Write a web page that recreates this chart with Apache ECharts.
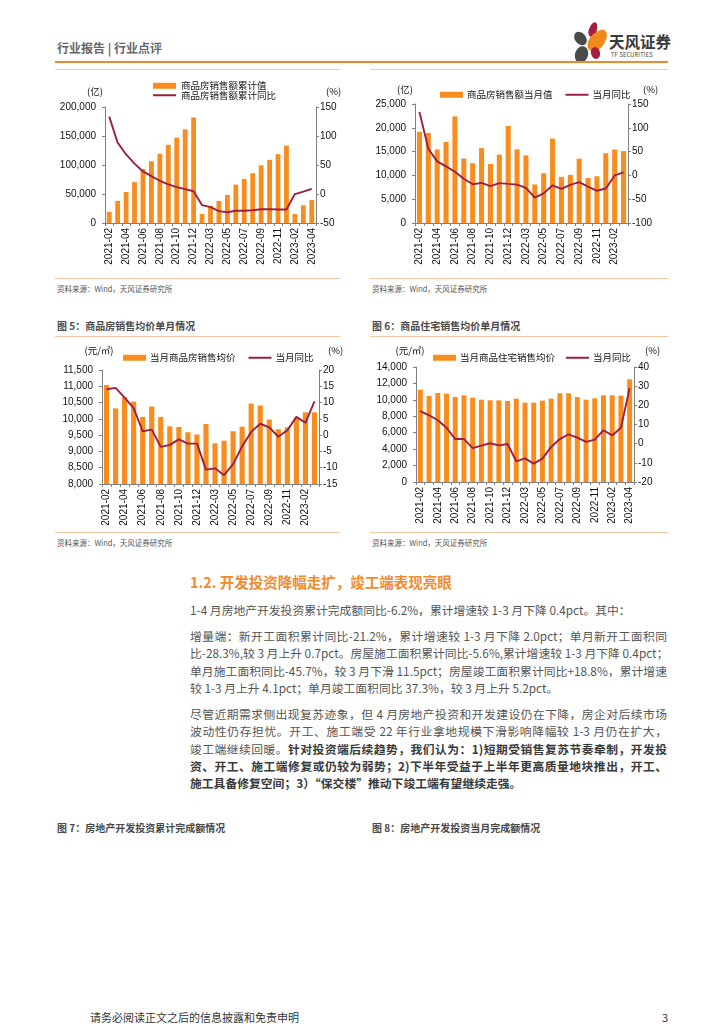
<!DOCTYPE html>
<html><head><meta charset="utf-8">
<script src="https://cdn.jsdelivr.net/npm/echarts/dist/echarts.min.js"></script>
<style>
html,body{margin:0;padding:0;background:#fff;}
body{width:724px;height:1024px;position:relative;overflow:hidden;font-family:"Noto Sans CJK SC","Noto Sans",sans-serif;}
.abs{position:absolute;}
.hl{position:absolute;height:1px;background:#F7C7A2;}
.src{position:absolute;font-size:7.5px;color:#555;line-height:10px;white-space:nowrap;}
.cap{position:absolute;font-size:10px;font-weight:bold;color:#4a4a4a;line-height:12px;white-space:nowrap;}
.para{position:absolute;left:190px;width:477px;font-size:11.8px;color:#555;}
.para div{height:17.3px;line-height:17.3px;text-align:justify;text-align-last:justify;white-space:nowrap;overflow:visible;}
.para div.last{text-align-last:left;}
.para b{color:#3a3a3a;}
.petal{position:absolute;}
</style></head><body>

<!-- header -->
<div class="abs" style="left:57px;top:40px;font-size:12px;font-weight:bold;color:#666;line-height:16px;white-space:nowrap;">行业报告 | 行业点评</div>
<div class="petal" style="left:589px;top:22px;width:8px;height:15px;background:#A51E3C;border-radius:50% 50% 50% 50%/60% 60% 40% 40%;transform:rotate(18deg);"></div>
<div class="petal" style="left:590px;top:28px;width:15px;height:25px;background:#F08A1D;border-radius:50% 50% 50% 50%/60% 60% 40% 40%;transform:rotate(38deg);"></div>
<div class="petal" style="left:575px;top:31px;width:11px;height:15px;background:#4a4a4a;border-radius:50%;transform:rotate(-40deg);"></div>
<div class="petal" style="left:575px;top:46px;width:13px;height:17px;background:#4a4a4a;border-radius:50%;transform:rotate(20deg);"></div>
<div class="petal" style="left:591px;top:47px;width:9px;height:12px;background:#A51E3C;border-radius:50%;transform:rotate(-15deg);"></div>
<div class="abs" style="left:609px;top:32px;font-size:15.5px;font-weight:bold;color:#3a3a3a;line-height:18px;white-space:nowrap;">天风证券</div>
<div class="abs" style="left:611px;top:52px;font-size:5.5px;color:#3a3a3a;line-height:7px;letter-spacing:0.3px;white-space:nowrap;">TF SECURITIES</div>
<div class="abs" style="left:55px;top:61px;width:613px;height:2px;background:#EE8A2E;"></div>

<!-- top panels -->
<div class="hl" style="left:55px;top:69px;width:285px;"></div>
<div class="hl" style="left:370px;top:69px;width:298px;"></div>
<div id="c1" class="abs" style="left:55px;top:70px;width:300px;height:206px;"></div>
<div id="c2" class="abs" style="left:370px;top:70px;width:298px;height:206px;"></div>
<div class="hl" style="left:55px;top:278px;width:285px;"></div>
<div class="hl" style="left:370px;top:278px;width:298px;"></div>
<div class="src" style="left:57px;top:284px;">资料来源：Wind，天风证券研究所</div>
<div class="src" style="left:372px;top:284px;">资料来源：Wind，天风证券研究所</div>

<div class="cap" style="left:57px;top:320px;">图 5：商品房销售均价单月情况</div>
<div class="cap" style="left:372px;top:320px;">图 6：商品住宅销售均价单月情况</div>
<div class="hl" style="left:55px;top:336px;width:285px;"></div>
<div class="hl" style="left:370px;top:336px;width:298px;"></div>
<div id="c3" class="abs" style="left:55px;top:338px;width:300px;height:194px;"></div>
<div id="c4" class="abs" style="left:370px;top:338px;width:298px;height:194px;"></div>
<div class="hl" style="left:55px;top:532px;width:285px;"></div>
<div class="hl" style="left:370px;top:532px;width:298px;"></div>
<div class="src" style="left:57px;top:538px;">资料来源：Wind，天风证券研究所</div>
<div class="src" style="left:372px;top:538px;">资料来源：Wind，天风证券研究所</div>

<!-- text -->
<div class="abs" style="left:190px;top:572px;font-size:14.5px;font-weight:bold;color:#F08A2D;line-height:20px;white-space:nowrap;">1.2. 开发投资降幅走扩，竣工端表现亮眼</div>
<div class="para" style="top:601px;">
<div class="last">1-4 月房地产开发投资累计完成额同比-6.2%，累计增速较 1-3 月下降 0.4pct。其中：</div>
</div>
<div class="para" style="top:627px;">
<div>增量端：新开工面积累计同比-21.2%，累计增速较 1-3 月下降 2.0pct；单月新开工面积同</div>
<div>比-28.3%,较 3 月上升 0.7pct。房屋施工面积累计同比-5.6%,累计增速较 1-3 月下降 0.4pct；</div>
<div>单月施工面积同比-45.7%，较 3 月下滑 11.5pct；房屋竣工面积累计同比+18.8%，累计增速</div>
<div class="last">较 1-3 月上升 4.1pct；单月竣工面积同比 37.3%，较 3 月上升 5.2pct。</div>
</div>
<div class="para" style="top:705px;">
<div>尽管近期需求侧出现复苏迹象，但 4 月房地产投资和开发建设仍在下降，房企对后续市场</div>
<div>波动性仍存担忧。开工、施工端受 22 年行业拿地规模下滑影响降幅较 1-3 月仍在扩大，</div>
<div>竣工端继续回暖。<b>针对投资端后续趋势，我们认为：1)短期受销售复苏节奏牵制，开发投</b></div>
<div><b>资、开工、施工端修复或仍较为弱势；2)下半年受益于上半年更高质量地块推出，开工、</b></div>
<div class="last"><b>施工具备修复空间；3）“保交楼”推动下竣工端有望继续走强。</b></div>
</div>

<div class="cap" style="left:57px;top:822px;">图 7：房地产开发投资累计完成额情况</div>
<div class="cap" style="left:372px;top:822px;">图 8：房地产开发投资当月完成额情况</div>

<div class="abs" style="left:90px;top:1010px;font-size:11px;color:#333;line-height:14px;white-space:nowrap;">请务必阅读正文之后的信息披露和免责申明</div>
<div class="abs" style="left:662px;top:1010px;font-size:11px;color:#333;line-height:14px;">3</div>

<script>
// ---------- data ----------
const months25 = ['2021-02','2021-03','2021-04','2021-05','2021-06','2021-07','2021-08','2021-09','2021-10','2021-11','2021-12',
  '2022-02','2022-03','2022-04','2022-05','2022-06','2022-07','2022-08','2022-09','2022-10','2022-11','2022-12',
  '2023-02','2023-03','2023-04'];
const months24 = ['2021-02','2021-03','2021-04','2021-05','2021-06','2021-07','2021-08','2021-09','2021-10','2021-11','2021-12',
  '2022-02','2022-03','2022-04','2022-05','2022-06','2022-07','2022-08','2022-09','2022-10','2022-11','2022-12',
  '2023-02','2023-03'];

// 商品房销售额累计值 (亿) / 累计同比 (%)
const salesCumValue = [19151,38049,53498,70534,92931,106482,119047,134795,147185,161542,181930,
  15459,29655,37933,48337,66072,75763,85870,99380,108832,118648,133308,15449,30545,39750];
const salesCumYoY = [133.4,88.5,68.2,52.4,38.9,30.7,22.8,16.6,11.8,8.5,4.8,
  -19.3,-22.7,-29.5,-31.5,-28.9,-28.8,-27.9,-26.3,-26.1,-26.6,-26.7,-0.1,4.1,8.8];

// 商品房销售额当月值 (亿) / 当月同比 (%)
const salesMonthValue = [19151,18898,15449,17036,22397,13551,12565,15748,12390,14357,20388,
  15459,14196,8100,10450,17735,9691,10107,13510,9452,9816,14660,15449,15096];
const salesMonthYoY = [133.4,56.1,29.5,18.9,7.6,-7.0,-18.7,-15.8,-22.6,-16.3,-17.9,
  -19.3,-26.2,-46.6,-37.7,-20.8,-28.5,-19.9,-14.2,-23.7,-32.3,-27.6,-0.1,6.3];

// 图5: 当月商品房销售均价 (元/㎡) / 当月同比 (%)
const priceMonth = [11040,10320,10660,10530,10060,10380,10060,9770,9750,9590,9520,
  9840,9250,9330,9620,9760,10470,10410,9980,9680,9740,10030,10200,10200];
const priceMonthYoY = [14.1,14.5,11.5,8.3,1.2,1.7,-3.6,-3.0,-1.3,-2.6,-2.6,
  -10.6,-10.2,-12.3,-8.9,-3.4,1.0,3.5,2.4,-0.5,1.5,5.6,3.8,10.4];

// 图6: 当月商品住宅销售均价 (元/㎡) / 当月同比 (%)
const resPriceMonth = [11240,10470,10840,10750,10350,10550,10270,10020,9940,9940,9860,
  10150,9660,9660,9900,10150,10800,10800,10350,10020,10190,10550,10550,10510,12500];
const resPriceMonthYoY = [17.0,14.8,12.2,8.3,2.4,2.4,-2.3,-1.0,0.2,-0.9,-0.2,
  -9.2,-7.7,-10.4,-7.8,-1.7,2.4,4.9,3.1,0.9,2.1,7.0,4.3,8.3,29.0];

// axis ranges
const c1Left = {min:0,max:200000,interval:50000}, c1Right = {min:-50,max:150,interval:50};
const c2Left = {min:0,max:25000,interval:5000},  c2Right = {min:-100,max:150,interval:50};
const c3Left = {min:8000,max:11500,interval:500}, c3Right = {min:-15,max:20,interval:5};
const c4Left = {min:0,max:14000,interval:2000},  c4Right = {min:-20,max:40,interval:10};

// ---------- styling ----------
const BAR = '#F88C1F', LINE = '#9C1F42', AX = '#808080', TXT = '#111';
const FONT = 'Liberation Sans, Arial, Noto Sans CJK SC';
const fmt = v => Number(v).toLocaleString('en-US');

function build(el, c) {
  const chart = echarts.init(document.getElementById(el), null, {renderer:'canvas'});
  const yBase = (r, pos, name, nameCfg, margin, formatter) => ({
    type:'value', position:pos, min:r.min, max:r.max, interval:r.interval,
    name:name, nameLocation:'end', nameGap:nameCfg.gap,
    nameTextStyle:{color:TXT, fontSize:9.5, fontFamily:nameCfg.font || 'Noto Sans CJK SC', align:nameCfg.align, padding:nameCfg.pad},
    splitLine:{show:false},
    axisLine:{show:true, lineStyle:{color:AX, width:1}},
    axisTick:{show:true, inside:false, length:3, lineStyle:{color:AX}},
    axisLabel:{color:TXT, fontSize:10, fontFamily:FONT, margin:margin, formatter:formatter}
  });
  chart.setOption({
    animation:false,
    textStyle:{fontFamily:FONT},
    legend:Object.assign({
      itemWidth:23, itemHeight:6,
      textStyle:{color:TXT, fontSize:9.5, fontFamily:'Noto Sans CJK SC', padding:[0,0,0,-1]},
      data:[{name:c.barName, icon:'rect'}, {name:c.lineName, itemStyle:{opacity:0}}]
    }, c.legend),
    grid:Object.assign({containLabel:false, outerBoundsMode:'none'}, c.grid),
    xAxis:{
      type:'category', data:c.cats, boundaryGap:true,
      axisLine:{show:true, onZero:false, lineStyle:{color:AX}},
      axisTick:{show:true, interval:0, length:3, lineStyle:{color:AX}},
      axisLabel:{interval:1, rotate:90, fontSize:10, color:TXT, fontFamily:FONT, margin:5},
      splitLine:{show:false}
    },
    yAxis:[
      yBase(c.left, 'left', c.leftName, c.leftNameCfg, c.leftMargin, fmt),
      yBase(c.right, 'right', '(%)', c.rightNameCfg, c.rightMargin, v => v)
    ],
    series:[
      {name:c.barName, type:'bar', yAxisIndex:0, data:c.bar, barWidth:'57%', itemStyle:{color:BAR}},
      {name:c.lineName, type:'line', yAxisIndex:1, data:c.line, symbol:'none', lineStyle:{color:LINE, width:1.9}, itemStyle:{color:LINE}}
    ]
  });
}

build('c1', {
  cats:months25, bar:salesCumValue, line:salesCumYoY,
  barName:'商品房销售额累计值', lineName:'商品房销售额累计同比',
  left:c1Left, right:c1Right,
  grid:{left:50, right:39, top:37, bottom:53},
  legend:{orient:'vertical', left:92, top:6, itemGap:0, textStyle:{color:TXT, fontSize:9.5, lineHeight:8, fontFamily:'Noto Sans CJK SC'}},
  leftName:'(亿)', leftNameCfg:{gap:11, align:'right', pad:[0,2,0,0]}, leftMargin:9,
  rightNameCfg:{gap:11, align:'left', pad:[0,0,0,10]}, rightMargin:4
});
build('c2', {
  cats:months24, bar:salesMonthValue, line:salesMonthYoY,
  barName:'商品房销售额当月值', lineName:'当月同比',
  left:c2Left, right:c2Right,
  grid:{left:45, right:40, top:34, bottom:53},
  legend:{orient:'horizontal', left:65, top:15, itemGap:12},
  leftName:'(亿)', leftNameCfg:{gap:10, align:'right', pad:[0,2,0,0]}, leftMargin:9,
  rightNameCfg:{gap:10, align:'left', pad:[0,0,0,15]}, rightMargin:4
});
build('c3', {
  cats:months24, bar:priceMonth, line:priceMonthYoY,
  barName:'当月商品房销售均价', lineName:'当月同比',
  left:c3Left, right:c3Right,
  grid:{left:47, right:36, top:32, bottom:48},
  legend:{orient:'horizontal', left:63, top:10, itemGap:12},
  leftName:'(元/㎡)', leftNameCfg:{gap:15, align:'center', pad:[0,6,0,0]}, leftMargin:9,
  rightNameCfg:{gap:15, align:'left', pad:[0,0,0,9]}, rightMargin:4
});
build('c4', {
  cats:months25, bar:resPriceMonth, line:resPriceMonthYoY,
  barName:'当月商品住宅销售均价', lineName:'当月同比',
  left:c4Left, right:c4Right,
  grid:{left:46, right:34, top:29, bottom:50},
  legend:{orient:'horizontal', left:58, top:10, itemGap:10},
  leftName:'(元/㎡)', leftNameCfg:{gap:12, align:'center', pad:[0,12,0,0]}, leftMargin:9,
  rightNameCfg:{gap:12, align:'left', pad:[0,0,0,11]}, rightMargin:4
});
</script>
</body></html>
